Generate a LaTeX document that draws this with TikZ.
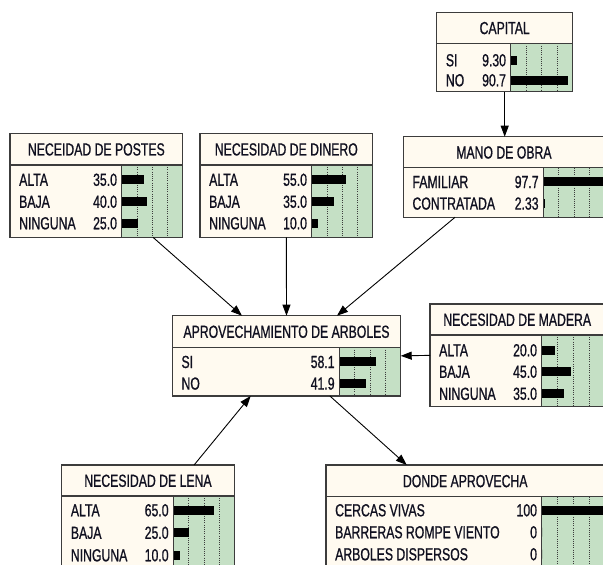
\documentclass[tikz,border=0pt]{standalone}
\usepackage{fontspec}
\setmainfont{Liberation Sans}[FakeStretch=0.70,FakeBold=0.8]
\usetikzlibrary{arrows.meta,calc}
\definecolor{bncream}{RGB}{255,250,240}
\definecolor{bngreen}{RGB}{197,224,197}
\definecolor{bnframe}{RGB}{60,60,60}
\definecolor{bntext}{RGB}{16,16,32}
\tikzset{
  bnframe/.style={fill=bncream, draw=none, inner sep=0pt, outer sep=0pt},
  frameline/.style={draw=bnframe, line width=1.2pt},
  gridline/.style={draw=bnframe, line width=0.6pt, dash pattern=on 1pt off 1.2pt},
  titletext/.style={inner sep=0pt, text=bntext, font=\fontsize{17.5}{20}\selectfont},
  rowtext/.style={inner sep=0pt, text=bntext, font=\fontsize{17.5}{20}\selectfont},
  barfill/.style={fill=black},
  link/.style={draw=black, line width=0.9pt, -{Triangle[length=11pt,width=8pt]}},
}
% #1 name #2 left #3 top #4 right #5 divider #6 bottom #7 barleft #8 title
\newcommand\bnbox[8]{%
  \node[bnframe, anchor=north west, minimum width={#4pt-#2pt}, minimum height={#6pt-#3pt}] (#1) at (#2,#3) {};
  \fill[bngreen] (#7,#5) rectangle (#4,#6);
  \pgfmathsetmacro\bnW{#4-#7}%
  \foreach \q in {0.25,0.5,0.75} {\draw[gridline] ({#7+\q*\bnW},#5) -- ({#7+\q*\bnW},#6);}
  \draw[frameline] (#2,#5) -- (#4,#5);
  \draw[frameline] (#7,#5) -- (#7,#6);
  \draw[frameline] (#1.north west) rectangle (#1.south east);
  \node[titletext, anchor=base] (#1-title) at ({(#2+#4)/2},{(#3+#5)/2+6.3}) {#8};
  \def\bnL{#2}\def\bnB{#7}%
}
% #1 name #2 y #3 label #4 value #5 percent
\newcommand\bnrow[5]{%
  \node[rowtext, anchor=base west] (#1-l) at ({\bnL+9},{#2+6.3}) {#3};
  \node[rowtext, anchor=base east] (#1-v) at ({\bnB-4.5},{#2+6.3}) {#4};
  \fill[barfill] ({\bnB+0.6},{#2-4.5}) rectangle ({\bnB+0.6+#5/100*\bnW},{#2+4.5});
}
\begin{document}
\begin{tikzpicture}[x=1pt,y=-1pt]
\useasboundingbox (0,0) rectangle (603,565);
\clip (0,0) rectangle (603,565);
\fill[white] (0,0) rectangle (603,565);

\bnbox{capital}{436.7}{12.3}{572.7}{43.3}{91.7}{510.7}{CAPITAL}
\bnrow{capsi}{60}{SI}{9.30}{9.30}
\bnrow{capno}{80}{NO}{90.7}{90.7}

\bnbox{postes}{10}{133.3}{182.7}{165}{237.3}{121.7}{NECEIDAD DE POSTES}
\bnrow{posa}{179.5}{ALTA}{35.0}{35}
\bnrow{posb}{201.5}{BAJA}{40.0}{40}
\bnrow{posn}{223}{NINGUNA}{25.0}{25}

\bnbox{dinero}{200}{133.3}{372.7}{165}{237.3}{311.7}{NECESIDAD DE DINERO}
\bnrow{dina}{179.5}{ALTA}{55.0}{55}
\bnrow{dinb}{201.5}{BAJA}{35.0}{35}
\bnrow{dinn}{223}{NINGUNA}{10.0}{10}

\bnbox{mano}{403.3}{136.7}{604.5}{167.7}{217.3}{543.3}{MANO DE OBRA}
\bnrow{manf}{181.7}{FAMILIAR}{97.7}{97.7}
\bnrow{manc}{203.3}{CONTRATADA}{2.33}{2.33}

\bnbox{aprov}{172.3}{315.7}{400.7}{347.3}{396}{339.3}{APROVECHAMIENTO DE ARBOLES}
\bnrow{aprsi}{361.7}{SI}{58.1}{58.1}
\bnrow{aprno}{383.3}{NO}{41.9}{41.9}

\bnbox{madera}{430}{304}{604.5}{335}{406.7}{541.7}{NECESIDAD DE MADERA}
\bnrow{mada}{350}{ALTA}{20.0}{20}
\bnrow{madb}{371.5}{BAJA}{45.0}{45}
\bnrow{madn}{393.5}{NINGUNA}{35.0}{35}

\bnbox{lena}{61.7}{465}{234.3}{496}{580}{173.3}{NECESIDAD DE LENA}
\bnrow{lena-a}{510}{ALTA}{65.0}{65}
\bnrow{lena-b}{532.5}{BAJA}{25.0}{25}
\bnrow{lena-n}{555}{NINGUNA}{10.0}{10}

\bnbox{donde}{326}{465}{604.5}{496.7}{580}{541.7}{DONDE APROVECHA}
\bnrow{donc}{510}{CERCAS VIVAS}{100}{100}
\bnrow{donb}{532}{BARRERAS ROMPE VIENTO}{0}{0}
\bnrow{dona}{554}{ARBOLES DISPERSOS}{0}{0}

% connectors
\draw[link] (capital.south) -- (capital.south |- mano.north);
\draw[link] ($(postes.south west)!0.828!(postes.south east)$) -- ($(aprov.north west)!0.305!(aprov.north east)$);
\draw[link] (dinero.south) -- (aprov.north);
\draw[link] ($(mano.south west)!0.257!(mano.south east)$) -- ($(aprov.north west)!0.721!(aprov.north east)$);
\draw[link] (madera.west) -- (aprov.east);
\draw[link] ($(lena.north west)!0.767!(lena.north east)$) -- ($(aprov.south west)!0.343!(aprov.south east)$);
\draw[link] ($(aprov.south west)!0.69!(aprov.south east)$) -- ($(donde.north west)!0.29!(donde.north east)$);
\end{tikzpicture}
\end{document}
